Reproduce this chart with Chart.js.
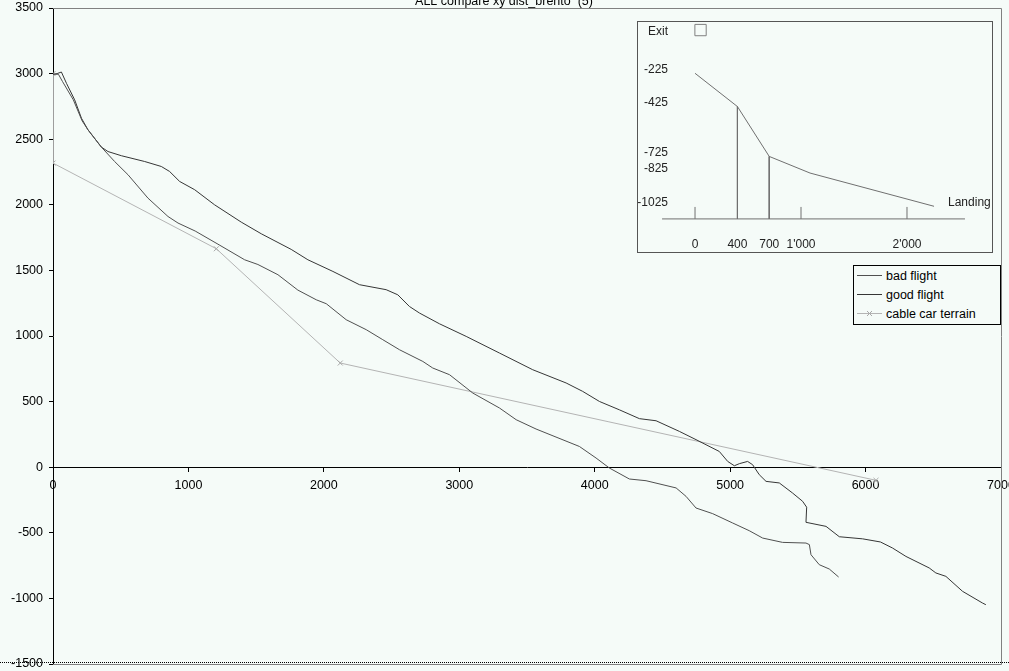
<!DOCTYPE html>
<html>
<head>
<meta charset="utf-8">
<script src="https://cdn.jsdelivr.net/npm/chart.js@4.4.1/dist/chart.umd.min.js"></script>
<style>
  body { margin: 0; background: #f5fbf8; overflow: hidden; font-family: "Liberation Sans", Arial, sans-serif; }
  #wrap { position: relative; width: 1009px; height: 671px; }
  #main { position: absolute; left: 0; top: 0; }
  #insetBox { position: absolute; left: 637px; top: 21px; width: 356px; height: 232px; box-sizing: border-box; border: 1px solid #555; background: #f5fbf8; }
  #inset { display: block; }
  #legend { position: absolute; left: 853px; top: 265px; width: 148px; box-sizing: border-box; border: 1px solid #000; background: #f5fbf8; padding: 1px 0 0 0; font-size: 12.5px; color: #000; }
  #legend .row { height: 19px; line-height: 19px; white-space: nowrap; }
  #legend svg { vertical-align: middle; margin: 0 4px 0 3px; position: relative; top: -1px; }
</style>
</head>
<body>
<div id="wrap">
  <canvas id="main" width="1009" height="671"></canvas>
  <div id="insetBox"><canvas id="inset" width="354" height="230"></canvas></div>
  <div id="legend"></div>
</div>
<script>
// axis ticks
const xTickValues = [0, 1000, 2000, 3000, 4000, 5000, 6000, 7000];
const yTickValues = [-1500, -1000, -500, 0, 500, 1000, 1500, 2000, 2500, 3000, 3500];

// good flight (longer track)
const goodX = [0, 30, 62, 100, 160, 210, 258, 357, 406, 505, 677, 800, 861, 935, 1046, 1193, 1390, 1538, 1759, 1882,
  2067, 2263, 2460, 2546, 2632, 2706, 2854, 3051, 3297, 3542, 3789, 3911, 4035, 4183, 4330, 4453, 4625, 4748, 4920, 4982,
  5031, 5068, 5129, 5166, 5215, 5265, 5363, 5461, 5535, 5565, 5560, 5708, 5806, 5978, 6110, 6199, 6298, 6470, 6519, 6593,
  6716, 6863, 6888];
const goodY = [2995, 3000, 3012, 2925, 2800, 2660, 2572, 2440, 2406, 2374, 2330, 2292, 2254, 2178, 2115, 2000, 1868, 1779, 1660, 1581,
  1492, 1391, 1353, 1314, 1225, 1175, 1093, 997, 870, 743, 642, 578, 501, 437, 370, 354, 273, 210, 120, 44,
  11, 27, 44, 19, -57, -108, -120, -197, -260, -305, -420, -451, -530, -546, -570, -616, -680, -768, -806, -832,
  -946, -1035, -1048];

// bad flight (shorter track)
const badX = [0, 40, 70, 150, 215, 258, 357, 455, 554, 701, 849, 923, 1050, 1218, 1415, 1513, 1661, 1808, 1944, 2018,
  2165, 2313, 2435, 2559, 2731, 2804, 2928, 3100, 3297, 3420, 3567, 3887, 4010, 4108, 4256, 4379, 4601, 4674, 4748, 4871,
  5018, 5141, 5240, 5387, 5560, 5585, 5597, 5658, 5732, 5801];
const badY = [2995, 2995, 2940, 2800, 2640, 2572, 2440, 2330, 2229, 2051, 1911, 1861, 1800, 1700, 1581, 1545, 1467, 1350, 1276, 1246,
  1124, 1048, 972, 895, 806, 756, 705, 565, 451, 362, 291, 158, 70, -6, -90, -103, -158, -222, -311, -354,
  -425, -484, -540, -573, -578, -590, -667, -743, -776, -837];

// cable car terrain
const cableX = [0, 0, 1206, 2121, 6077];
const cableY = [3000, 2318, 1665, 794, -100];

// inset profile
const insetDist = [0, 400, 700, 1085, 2255];
const insetElev = [-225, -425, -725, -825, -1025];
const insetDrops = [400, 700];
const insetTicks = [0, 1000, 2000];
const insetLabelDist = [0, 400, 700, 1000, 2000];
const insetLabelText = ['0', '400', '700', "1'000", "2'000"];
const insetAxisLevel = -1101;

const bg = '#f5fbf8';
const fontFamily = '"Liberation Sans", Arial, sans-serif';
Chart.defaults.font.family = fontFamily;
Chart.defaults.font.size = 12.5;
Chart.defaults.color = '#000';

function pts(xs, ys) {
  return xs.map((x, i) => ({ x: x, y: ys[i] }));
}

// frame, dotted bottom line and title
const framePlugin = {
  id: 'frame',
  beforeDraw(chart) {
    const ctx = chart.ctx;
    ctx.save();
    ctx.fillStyle = bg;
    ctx.fillRect(0, 0, chart.width, chart.height);
    ctx.restore();
  },
  afterDraw(chart) {
    const { ctx, chartArea: a } = chart;
    ctx.save();
    ctx.strokeStyle = '#808080';
    ctx.lineWidth = 1;
    ctx.beginPath();
    ctx.moveTo(a.left, a.top + 0.5);
    ctx.lineTo(a.right + 0.5, a.top + 0.5);
    ctx.lineTo(a.right + 0.5, a.bottom + 0.5);
    ctx.lineTo(a.left, a.bottom + 0.5);
    ctx.stroke();

    ctx.strokeStyle = '#000';
    ctx.setLineDash([1, 1]);
    ctx.beginPath();
    ctx.moveTo(0, a.bottom - 1.5);
    ctx.lineTo(chart.width, a.bottom - 1.5);
    ctx.stroke();
    ctx.setLineDash([]);

    ctx.fillStyle = '#000';
    ctx.font = '12.5px ' + fontFamily;
    ctx.textAlign = 'center';
    ctx.textBaseline = 'alphabetic';
    ctx.fillText('ALL compare xy dist_brento  (5)', 504, 5);
    ctx.restore();
  }
};

new Chart(document.getElementById('main'), {
  type: 'scatter',
  data: {
    datasets: [
      { label: 'bad flight', data: pts(badX, badY), showLine: true, borderColor: '#505050', borderWidth: 1, pointRadius: 0 },
      { label: 'good flight', data: pts(goodX, goodY), showLine: true, borderColor: '#363636', borderWidth: 1, pointRadius: 0 },
      { label: 'cable car terrain', data: pts(cableX, cableY), showLine: true, borderColor: '#b4b4b4', borderWidth: 1,
        pointStyle: 'crossRot', pointRadius: 3.5, pointBorderColor: '#a8a8a8', pointBorderWidth: 1 }
    ]
  },
  options: {
    responsive: false,
    animation: false,
    layout: { autoPadding: false, padding: { top: 8, right: 8, bottom: 7, left: 0 } },
    plugins: { legend: { display: false }, tooltip: { enabled: false } },
    scales: {
      x: {
        type: 'linear',
        position: { y: 0 },
        min: 0,
        max: 7000,
        afterBuildTicks: s => { s.ticks = xTickValues.map(v => ({ value: v })); },
        afterFit: s => { s.paddingLeft = 0; s.paddingRight = 0; },
        grid: { drawOnChartArea: false, tickLength: 4, color: '#000' },
        border: { color: '#000' },
        ticks: { padding: 7, maxRotation: 0, autoSkip: false, callback: v => String(v) }
      },
      y: {
        min: -1500,
        max: 3500,
        afterBuildTicks: s => { s.ticks = yTickValues.map(v => ({ value: v })); },
        afterFit: s => { s.width = 53; s.paddingTop = 0; s.paddingBottom = 0; },
        grid: { drawOnChartArea: false, tickLength: 4, color: '#000' },
        border: { color: '#000' },
        ticks: { padding: 6, autoSkip: false, callback: v => String(v) }
      }
    }
  },
  plugins: [framePlugin]
});

// inset labels
const insetLabels = {
  id: 'insetLabels',
  beforeDraw(chart) {
    const ctx = chart.ctx;
    ctx.save();
    ctx.fillStyle = bg;
    ctx.fillRect(0, 0, chart.width, chart.height);
    ctx.restore();
  },
  afterDraw(chart) {
    const { ctx, scales: { x, y } } = chart;
    ctx.save();
    ctx.font = '12px ' + fontFamily;
    ctx.fillStyle = '#222';
    ctx.textBaseline = 'middle';
    ctx.textAlign = 'right';
    const lx = x.getPixelForValue(-255);
    ctx.fillText('Exit', lx, y.getPixelForValue(0) - 4);
    insetElev.forEach(v => ctx.fillText(String(v), lx, y.getPixelForValue(v) - 4));
    ctx.textAlign = 'center';
    insetLabelDist.forEach((d, i) => ctx.fillText(insetLabelText[i], x.getPixelForValue(d), y.getPixelForValue(-1257)));
    ctx.textAlign = 'left';
    ctx.fillText('Landing', x.getPixelForValue(2387), y.getPixelForValue(-1025) - 4);
    ctx.restore();
  }
};

const insetLine = { showLine: true, borderColor: '#707070', borderWidth: 1, pointRadius: 0 };
const insetSets = [
  Object.assign({ data: pts(insetDist, insetElev) }, insetLine),
  Object.assign({ data: [{ x: insetDist[0] - 311, y: insetAxisLevel }, { x: 2547, y: insetAxisLevel }] }, insetLine)
];
insetDrops.forEach(d => {
  const e = insetElev[insetDist.indexOf(d)];
  insetSets.push(Object.assign({ data: [{ x: d, y: e }, { x: d, y: insetAxisLevel }] }, insetLine));
});
insetTicks.forEach(d => {
  insetSets.push(Object.assign({ data: [{ x: d, y: insetAxisLevel }, { x: d, y: -1029 }] }, insetLine));
});
insetSets.push({ data: [{ x: 52, y: 35 }], pointStyle: 'rect', pointRadius: 8, pointBorderColor: '#808080',
  pointBackgroundColor: 'rgba(0,0,0,0)', pointBorderWidth: 1, showLine: false });

new Chart(document.getElementById('inset'), {
  type: 'scatter',
  data: { datasets: insetSets },
  options: {
    responsive: false,
    animation: false,
    layout: { autoPadding: false, padding: 0 },
    plugins: { legend: { display: false }, tooltip: { enabled: false } },
    scales: {
      x: { display: false, min: -538, max: 2802 },
      y: { display: false, min: -1300, max: 83.5 }
    }
  },
  plugins: [insetLabels]
});

// legend
const legendItems = [
  { text: 'bad flight', color: '#505050', marker: false },
  { text: 'good flight', color: '#363636', marker: false },
  { text: 'cable car terrain', color: '#b4b4b4', marker: true }
];
document.getElementById('legend').innerHTML = legendItems.map(it =>
  '<div class="row"><svg width="25" height="9"><line x1="0" y1="4.5" x2="25" y2="4.5" stroke="' + it.color + '" stroke-width="1"/>' +
  (it.marker ? '<path d="M10 2 L15 7 M15 2 L10 7" stroke="#a8a8a8" stroke-width="1"/>' : '') +
  '</svg>' + it.text + '</div>'
).join('');
</script>
</body>
</html>
